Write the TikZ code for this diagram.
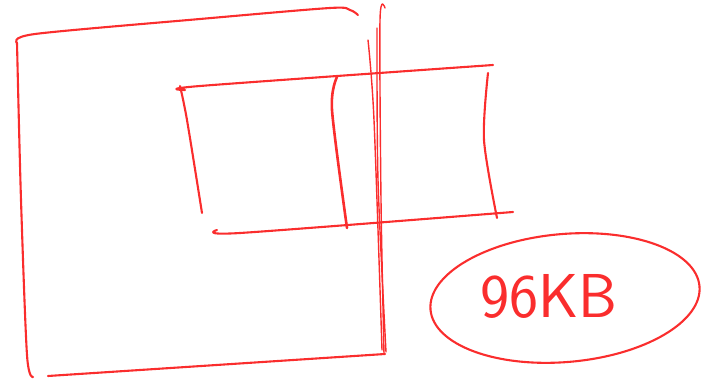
\documentclass[tikz,border=0pt]{standalone}
\usepackage{fontspec}
\usepackage{tikz}
\usetikzlibrary{arrows.meta,positioning,calc}
\definecolor{PenRed}{RGB}{250,45,45}

\begin{document}
\begin{tikzpicture}[x=1pt, y=-1pt, line width=2.1pt, line cap=round, line join=round]
      \useasboundingbox (0,0) rectangle (709,379);
      % outer box
      \draw[PenRed] plot[smooth] coordinates {(17,43) (35,34) (200,19) (330,8) (350,10) (358,15)};
      \draw[PenRed] plot[smooth] coordinates {(17,43) (21,200) (27,355) (33,377)};
      \draw[PenRed] (48,376) -- (385,354);
      \draw[PenRed, line width=1.4pt] plot[smooth] coordinates {(385,8) (380,20) (381,200) (384,354)};
      \draw[PenRed, line width=1.4pt] plot[smooth] coordinates {(368,40) (374,120) (382,350)};
      \draw[PenRed, line width=1.4pt] plot[smooth] coordinates {(377,28) (378,180) (386,352)};
      % inner box
      \draw[PenRed] plot[smooth] coordinates {(185,90) (200,86) (493,65)};
      \draw[PenRed] plot[smooth] coordinates {(180,86) (187,120) (202,213)};
      \draw[PenRed] plot[smooth] coordinates {(217,230) (240,233) (513,212)};
      \draw[PenRed] plot[smooth] coordinates {(488,73) (484,140) (497,218)};
      \draw[PenRed, line width=2.6pt] plot[smooth] coordinates {(337,77) (332,110) (347,228)};
      % size tag
      \draw[PenRed] [rotate around={5:(565,298)}] (565,298) ellipse [x radius=135, y radius=64];
      \node[text=PenRed, font=\sffamily\fontsize{62}{62}\selectfont] (size) at (549,296) {96KB};
    \end{tikzpicture}
\end{document}
